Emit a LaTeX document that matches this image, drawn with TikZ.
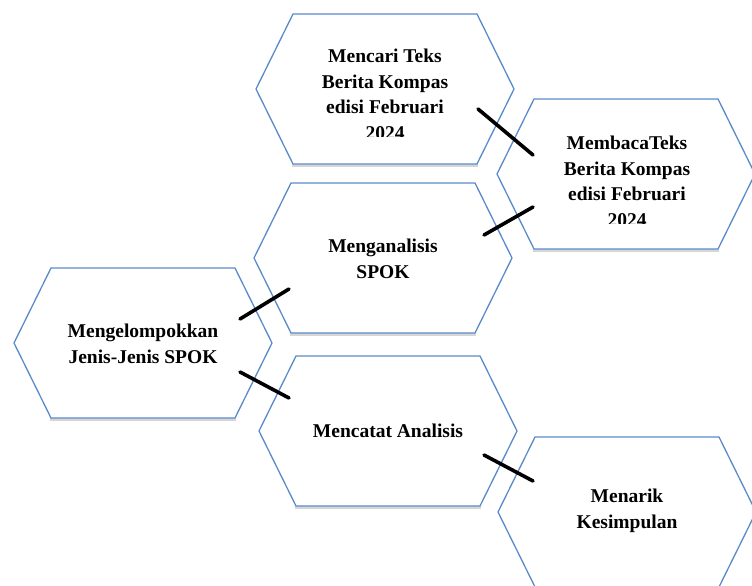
\documentclass[tikz,border=0pt]{standalone}
\usepackage{fontspec}
\setmainfont{Liberation Serif}
\usetikzlibrary{calc}
\definecolor{hexblue}{HTML}{5A8ACB}
\tikzset{
  hexline/.style={draw=hexblue, line width=1.3pt, fill=white, line join=miter},
  hexshade/.style={draw=black!16, line width=2.4pt},
  hextext/.style={align=center, font=\fontsize{19.5}{25.5}\selectfont\bfseries, inner sep=0pt},
  link/.style={line width=3.6pt, line cap=round}
}
% hexagon round a named coordinate: (name)(x,y)
\def\hexagon(#1)(#2){
  \coordinate (#1) at (#2);
  \draw[hexshade] ($(#1)+(-93,76.5)$) -- ($(#1)+(93,76.5)$);
  \draw[hexline] ($(#1)+(-129,0)$) -- ($(#1)+(-92,-75)$) -- ($(#1)+(92,-75)$)
    -- ($(#1)+(129,0)$) -- ($(#1)+(92,75)$) -- ($(#1)+(-92,75)$) -- cycle;
}

\begin{document}
\begin{tikzpicture}[x=1pt, y=-1pt]
		\useasboundingbox (0,0) rectangle (752,586);
		
		\hexagon(h1)(385,89)
		\hexagon(h2)(626,174)
		\hexagon(h3)(383,258)
		\hexagon(h4)(143,343)
		\hexagon(h5)(388,431)
		\hexagon(h6)(627,512)
		
		% long texts are cut off at the bottom
		\begin{scope}
			\clip (250,30) rectangle (520,136);
			\node[hextext, anchor=north] (t1) at (385,49) {Mencari Teks\\Berita Kompas\\edisi Februari\\2024};
		\end{scope}
		\begin{scope}
			\clip (500,110) rectangle (752,223);
			\node[hextext, anchor=north] (t2) at (627,136) {MembacaTeks\\Berita Kompas\\edisi Februari\\2024};
		\end{scope}
		
		\node[hextext] (t3) at (383,259) {Menganalisis\\SPOK};
		\node[hextext] (t4) at (143,344) {Mengelompokkan\\Jenis-Jenis SPOK};
		\node[hextext] (t5) at (388,431) {Mencatat Analisis};
		\node[hextext] (t6) at (627,511) {Menarik\\Kesimpulan};
		
		\draw[link] ($(h1)+(93,20)$) -- ($(h2)+(-93,-19)$);
		\draw[link] ($(h3)+(101,-23)$) -- ($(h2)+(-93,33)$);
		\draw[link] ($(h4)+(97,-24)$) -- ($(h3)+(-94,31)$);
		\draw[link] ($(h4)+(97,29)$) -- ($(h5)+(-99,-33)$);
		\draw[link] ($(h5)+(96,24)$) -- ($(h6)+(-94,-31)$);
		
	\end{tikzpicture}
\end{document}
